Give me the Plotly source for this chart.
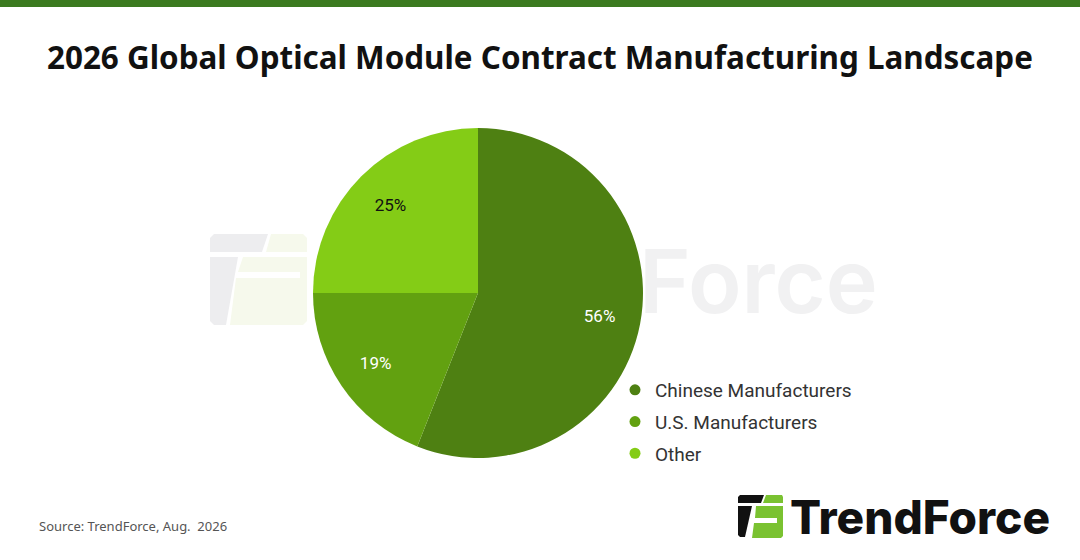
import plotly.graph_objects as go

# ---- data ----
categories = ["Chinese Manufacturers", "U.S. Manufacturers", "Other"]
shares = [56, 19, 25]
slice_colors = ["#4e8012", "#62a110", "#84cc16"]
label_colors = ["#ffffff", "#ffffff", "#111111"]

TITLE = "2026 Global Optical Module Contract Manufacturing Landscape"
SOURCE = "Source: TrendForce, Aug.\u00a0 2026"

W, H = 1080, 560
PIE_DOMAIN = dict(x=[313 / W, 643 / W], y=[1 - 458 / H, 1 - 128 / H])


def P(x, y):
    return f"{x / W:.5f},{1 - y / H:.5f}"


def path(points):
    return "M " + " L ".join(P(x, y) for x, y in points) + " Z"


fig = go.Figure()

# the pie itself (no text)
fig.add_trace(go.Pie(
    labels=categories,
    values=shares,
    sort=False,
    direction="clockwise",
    rotation=0,
    marker=dict(colors=slice_colors, line=dict(width=0)),
    textinfo="none",
    showlegend=False,
    hoverinfo="label+percent",
    domain=PIE_DOMAIN,
))

# transparent ring on top, only to place the percentage labels further out
fig.add_trace(go.Pie(
    labels=categories,
    values=shares,
    sort=False,
    direction="clockwise",
    rotation=0,
    hole=0.5,
    marker=dict(colors=["rgba(0,0,0,0)"] * len(shares), line=dict(width=0)),
    texttemplate="%{value}%",
    textposition="inside",
    insidetextorientation="horizontal",
    textfont=dict(family="Roboto", size=17, color=label_colors),
    showlegend=False,
    hoverinfo="skip",
    domain=PIE_DOMAIN,
))

# legend entries (circle markers)
for i, (name, col) in enumerate(zip(categories, slice_colors)):
    fig.add_trace(go.Scatter(
        x=[None], y=[None], mode="markers", name=name,
        marker=dict(symbol="circle", size=11, color=col),
        legendgroup=f"g{i}", showlegend=True,
    ))

shapes = []
# top green bar
shapes.append(dict(type="rect", xref="paper", yref="paper", x0=0, x1=1,
                   y0=1 - 7 / H, y1=1, fillcolor="#3b7a1f", line=dict(width=0), layer="above"))

# watermark icon (faint)
wm_gray = "#ededef"
wm_green = "#f6f9ec"
shapes += [
    dict(type="path", xref="paper", yref="paper", layer="below",
         path=path([(214, 234), (268, 234), (262, 252), (210, 252), (210, 238)]),
         fillcolor=wm_gray, line=dict(width=0)),
    dict(type="path", xref="paper", yref="paper", layer="below",
         path=path([(210, 257), (238, 257), (226, 325), (214, 325), (210, 321)]),
         fillcolor=wm_gray, line=dict(width=0)),
    dict(type="path", xref="paper", yref="paper", layer="below",
         path=path([(271, 234), (303, 234), (307, 238), (307, 252), (266, 252)]),
         fillcolor=wm_green, line=dict(width=0)),
    dict(type="path", xref="paper", yref="paper", layer="below",
         path=path([(243, 257), (307, 257), (307, 321), (303, 325), (230, 325), (236, 278),
                    (300, 278), (300, 272), (238, 272)]),
         fillcolor=wm_green, line=dict(width=0)),
]

# bottom-right logo icon
blk = "#111111"
grn = "#7ac231"
shapes += [
    dict(type="path", xref="paper", yref="paper", layer="above",
         path=path([(740, 495), (764, 495), (761, 503), (738, 503), (738, 497)]),
         fillcolor=blk, line=dict(width=0)),
    dict(type="path", xref="paper", yref="paper", layer="above",
         path=path([(738, 506), (752, 506), (745, 537), (740, 537), (738, 535)]),
         fillcolor=blk, line=dict(width=0)),
    dict(type="path", xref="paper", yref="paper", layer="above",
         path=path([(766, 495), (782, 495), (783, 497), (783, 503), (763, 503)]),
         fillcolor=grn, line=dict(width=0)),
    dict(type="path", xref="paper", yref="paper", layer="above",
         path=path([(756, 506), (783, 506), (783, 536), (781, 538), (752, 538), (754, 523),
                    (777, 523), (777, 518), (755, 518)]),
         fillcolor=grn, line=dict(width=0)),
]

annotations = [
    dict(text=f"<b>{TITLE}</b>", x=0.5, y=1 - 57 / H, xref="paper", yref="paper",
         xanchor="center", yanchor="middle", showarrow=False,
         font=dict(family="Noto Sans", size=31.4, color="#111111")),
    dict(text=SOURCE, x=37 / W, y=1 - 526 / H, xref="paper", yref="paper",
         xanchor="left", yanchor="middle", showarrow=False,
         font=dict(family="Noto Sans", size=13, color="#555555")),
    dict(text="TrendForce", x=788 / W, y=1 - 517 / H, xref="paper", yref="paper",
         xanchor="left", yanchor="middle", showarrow=False,
         font=dict(family="Inter", size=46, color="#111111", weight=800)),
    dict(text="Force", x=637 / W, y=1 - 281 / H, xref="paper", yref="paper",
         xanchor="left", yanchor="middle", showarrow=False,
         font=dict(family="Inter", size=88, color="#f1f1f2", weight=600)),
]

fig.update_layout(
    width=W, height=H,
    margin=dict(l=0, r=0, t=0, b=0),
    paper_bgcolor="white", plot_bgcolor="white",
    xaxis=dict(visible=False), yaxis=dict(visible=False),
    shapes=shapes,
    annotations=annotations,
    legend=dict(x=615 / W, y=1 - 371 / H, xanchor="left", yanchor="top",
                font=dict(family="Roboto", size=19, color="#333333"),
                tracegroupgap=4, bgcolor="rgba(0,0,0,0)", itemwidth=30),
)

fig.write_html("out.html", config={"displayModeBar": False},
               post_script="document.body.style.margin='0';document.body.style.padding='0';")
